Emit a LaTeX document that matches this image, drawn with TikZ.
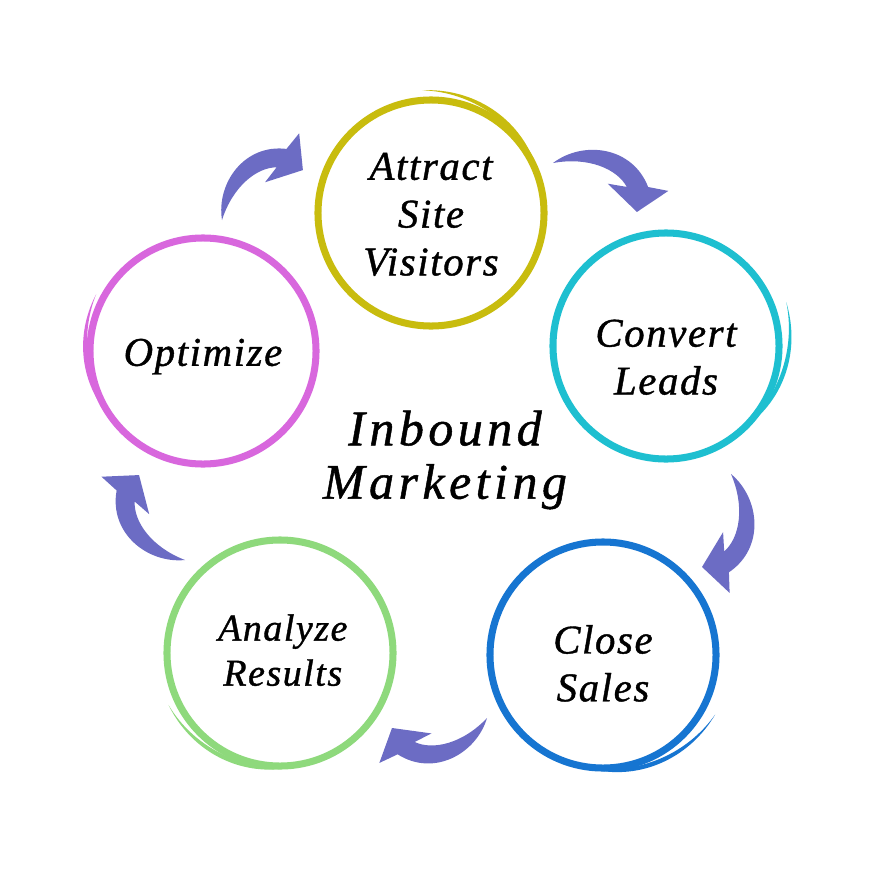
\documentclass[tikz,border=0pt]{standalone}
\usepackage{fontspec}
\newfontfamily\cyclefont[LetterSpace=4, FakeBold=1]{Liberation Serif}
\newfontfamily\centrefont[LetterSpace=9, FakeBold=1]{Liberation Serif}
\usetikzlibrary{calc}

% a tapered brush tail beside a ring: colour, centre x, centre y, radius,
% loose-end angle, joined-end angle, offset of the loose end
\newcommand{\ringtail}[7]{%
  \fill[#1] plot[domain=0:1, samples=40, variable=\q]
      ({#2+(#4+#7*(1-\q)+2.2*sin(180*\q))*cos(#5+(#6-#5)*\q)},
       {#3+(#4+#7*(1-\q)+2.2*sin(180*\q))*sin(#5+(#6-#5)*\q)})
    -- plot[domain=1:0, samples=40, variable=\q]
      ({#2+(#4+#7*(1-\q)-2.2*sin(180*\q))*cos(#5+(#6-#5)*\q)},
       {#3+(#4+#7*(1-\q)-2.2*sin(180*\q))*sin(#5+(#6-#5)*\q)})
    -- cycle;}

% a bent arrow from a tail coordinate to a tip coordinate
\newcommand{\cyclearrow}[2]{%
  \path (#1); \pgfgetlastxy{\tailx}{\taily}%
  \path (#2); \pgfgetlastxy{\tipx}{\tipy}%
  \pgfmathsetmacro{\arrowang}{atan2(\tipy-\taily, \tipx-\tailx)}%
  \pgfmathsetmacro{\arrowlen}{veclen(\tipx-\tailx, \tipy-\taily)}%
  \path (#1) pic[rotate=\arrowang, x=\arrowlen pt, y=\arrowlen pt] {bentarrow};}

\begin{document}
\begin{tikzpicture}[x=0.025cm, y=-0.025cm]

% ---------------------------------------------------------------- colours
\definecolor{attractcol}{HTML}{C8BC0E}
\definecolor{convertcol}{HTML}{1EBFD0}
\definecolor{closecol}{HTML}{1675D1}
\definecolor{analyzecol}{HTML}{8ED97C}
\definecolor{optimizecol}{HTML}{D867DD}
\definecolor{arrowcol}{HTML}{6C6CC4}

\tikzset{
    ring/.style={circle, line width=5pt, minimum size=5.65cm, inner sep=0pt},
    ringtext/.style={align=center, inner sep=0pt,
                     font=\cyclefont\itshape\fontsize{29}{34}\selectfont},
    bentarrow/.pic={
        \fill[arrowcol] (0,0) .. controls (0.15,0.36) and (0.62,0.56) .. (0.97,0.28)
            -- (1.17,0.35) -- (1,0) -- (0.594,0.10) -- (0.78,0.17)
            .. controls (0.6,0.28) and (0.28,0.24) .. (0,0) -- cycle;
    },
}

\useasboundingbox (0,0) rectangle (888,888);
\fill[white] (0,0) rectangle (888,888);

% ---------------------------------------------------------------- rings
\node[ring, draw=attractcol] (attract) at (431,213) {};
\node[ring, draw=convertcol] (convert) at (666,346) {};
\node[ring, draw=closecol] (close) at (603,655) {};
\node[ring, draw=analyzecol] (analyze) at (280,653) {};
\node[ring, draw=optimizecol] (optimize) at (203,351) {};

\ringtail{attractcol}{431}{213}{112}{266}{350}{11}
\ringtail{convertcol}{666}{346}{112}{340}{410}{16}
\ringtail{closecol}{603}{655}{112}{28}{105}{15}
\ringtail{analyzecol}{280}{653}{113}{155}{75}{10}
\ringtail{optimizecol}{203}{351}{113}{208}{140}{8}

% ---------------------------------------------------------------- labels
\node[ringtext] (attract-text) at ([yshift=-1pt]attract.center) {Attract\\Site\\Visitors};
\node[ringtext] (convert-text) at ([yshift=-8pt]convert.center) {Convert\\Leads};
\node[ringtext] (close-text) at ([yshift=-6pt]close.center) {Close\\Sales};
\node[ringtext, font=\cyclefont\itshape\fontsize{27}{32}\selectfont]
    (analyze-text) at ([xshift=2pt, yshift=2pt]analyze.center) {Analyze\\Results};
\node[ringtext] (optimize-text) at ([yshift=-4pt]optimize.center) {Optimize};

\node[font=\centrefont\itshape\fontsize{35.5}{38}\selectfont, align=center]
    (inbound) at (445,460) {Inbound\\Marketing};

% ---------------------------------------------------------------- arrows
\coordinate (optatt-tail) at (222,220);
\coordinate (optatt-tip) at (303,170);
\coordinate (attconv-tail) at (553,163);
\coordinate (attconv-tip) at (637,212);
\coordinate (convclose-tail) at (731,474);
\coordinate (convclose-tip) at (702,567);
\coordinate (closeana-tail) at (487,718);
\coordinate (closeana-tip) at (392,728);
\coordinate (anaopt-tail) at (185,560);
\coordinate (anaopt-tip) at (139,475);

\cyclearrow{optatt-tail}{optatt-tip}
\cyclearrow{attconv-tail}{attconv-tip}
\cyclearrow{convclose-tail}{convclose-tip}
\cyclearrow{closeana-tail}{closeana-tip}
\cyclearrow{anaopt-tail}{anaopt-tip}

\end{tikzpicture}
\end{document}
